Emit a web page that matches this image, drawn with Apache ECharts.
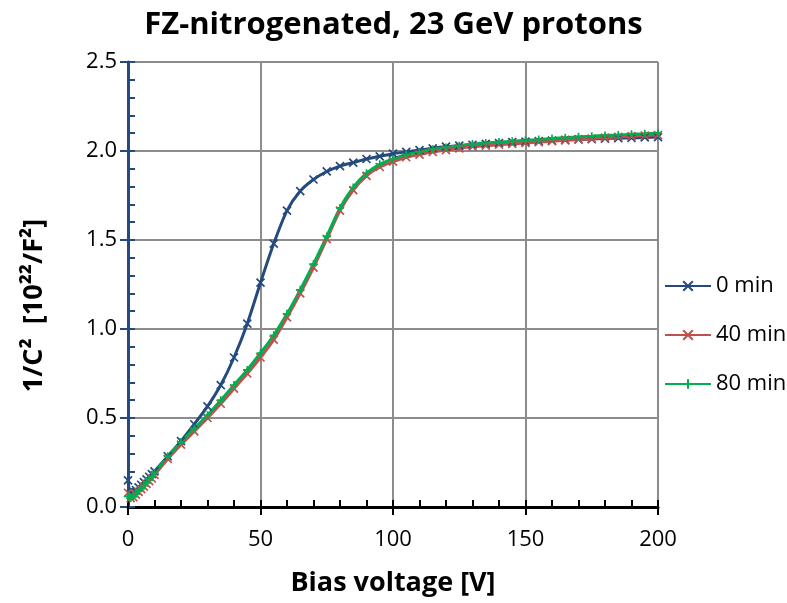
<!DOCTYPE html>
<html>
<head>
<meta charset="utf-8">
<script src="https://cdn.jsdelivr.net/npm/echarts@6/dist/echarts.min.js"></script>
<style>html,body{margin:0;padding:0;background:#fff}#c{width:787px;height:603px}</style>
</head>
<body>
<div id="c"></div>
<script>
const voltages = [0,1,2,3,4,5,6,7,8,9,10,15,20,25,30,35,40,45,50,55,60,65,70,75,80,85,90,95,100,105,110,115,120,125,130,135,140,145,150,155,160,165,170,175,180,185,190,195,200];
const min0 = [0.15,0.07,0.08,0.095,0.11,0.125,0.14,0.155,0.17,0.185,0.20,0.285,0.37,0.465,0.565,0.685,0.84,1.03,1.26,1.48,1.665,1.775,1.84,1.885,1.915,1.935,1.955,1.97,1.985,1.995,2.005,2.015,2.025,2.03,2.035,2.04,2.045,2.05,2.053,2.056,2.059,2.062,2.065,2.067,2.07,2.072,2.074,2.076,2.078];
const min40 = [0.08,0.05,0.055,0.07,0.085,0.10,0.115,0.13,0.145,0.16,0.18,0.27,0.35,0.425,0.50,0.58,0.665,0.75,0.84,0.94,1.065,1.20,1.345,1.505,1.665,1.78,1.86,1.91,1.94,1.965,1.98,1.995,2.005,2.015,2.025,2.03,2.035,2.04,2.045,2.05,2.055,2.06,2.065,2.07,2.075,2.08,2.083,2.087,2.09];
const min80 = [0.06,0.05,0.06,0.075,0.09,0.105,0.12,0.14,0.155,0.17,0.19,0.285,0.365,0.44,0.515,0.60,0.685,0.77,0.865,0.965,1.085,1.22,1.365,1.52,1.68,1.795,1.875,1.925,1.955,1.98,1.995,2.01,2.02,2.03,2.04,2.045,2.05,2.055,2.06,2.065,2.07,2.075,2.08,2.083,2.087,2.09,2.094,2.097,2.10];
const seriesNames = ['0 min','40 min','80 min'];
const seriesColors = ['#254A7D','#C0504D','#00B050'];
const xTicks = [0,50,100,150,200];
const yTicks = [0,0.5,1.0,1.5,2.0,2.5];

const FONT = 'Open Sans';
const X_SYM = 'path://M0,0L10,10M10,0L0,10';
const P_SYM = 'path://M5,0L5,10M0,5L10,5';

function pairs(ys){ return voltages.map((v,i)=>[v,ys[i]]); }
function mk(name, ys, color, sym){
  return {
    name, type:'line', data:pairs(ys), smooth:0.25,
    symbol:sym, symbolSize:8, showAllSymbol:true,
    lineStyle:{color, width:3},
    itemStyle:{color, borderColor:color, borderWidth:1.7},
    emphasis:{disabled:true}, animation:false
  };
}
const chart = echarts.init(document.getElementById('c'));
const yBase = {type:'value', min:yTicks[0], max:yTicks[yTicks.length-1], interval:0.5, position:'left'};
const xBase = {type:'value', min:xTicks[0], max:xTicks[xTicks.length-1], interval:50, position:'bottom'};
chart.setOption({
  animation:false,
  title:{text:'FZ-nitrogenated, 23 GeV protons', left:'center', top:5,
    textStyle:{fontFamily:FONT, fontWeight:'bold', fontSize:31, color:'#000'}},
  grid:{left:128, right:129, top:62, bottom:96},
  legend:{orient:'vertical', left:659, top:270, itemWidth:46, itemHeight:12, itemGap:27,
    textStyle:{fontFamily:FONT, fontSize:22, color:'#000'}, data:seriesNames},
  xAxis:[
    Object.assign({}, xBase, {
      name:'Bias voltage [V]', nameLocation:'middle', nameGap:63,
      nameTextStyle:{fontFamily:FONT, fontWeight:'bold', fontSize:27, color:'#000'},
      axisLine:{show:true, lineStyle:{color:'#000', width:3}},
      axisTick:{show:true, inside:true, length:7, lineStyle:{color:'#000', width:2}},
      minorTick:{show:true, splitNumber:5, length:7, lineStyle:{color:'#000', width:2}},
      splitLine:{show:true, lineStyle:{color:'#8C8C8C', width:2}},
      axisLabel:{fontFamily:FONT, fontSize:22, color:'#000', margin:22}
    }),
    Object.assign({}, xBase, {
      axisLine:{show:false},
      axisTick:{show:true, inside:false, length:8, lineStyle:{color:'#000', width:2}},
      splitLine:{show:false}, axisLabel:{show:false}
    })
  ],
  yAxis:[
    Object.assign({}, yBase, {
      name:'1/C\u00B2  [10\u00B2\u00B2/F\u00B2]', nameLocation:'middle', nameGap:80,
      nameTextStyle:{fontFamily:FONT, fontWeight:'bold', fontSize:27, color:'#000', padding:[0,42,0,0]},
      axisLine:{show:true, lineStyle:{color:'#254A7D', width:3}},
      axisTick:{show:true, inside:true, length:7, lineStyle:{color:'#254A7D', width:2}},
      minorTick:{show:true, splitNumber:5, length:7, lineStyle:{color:'#254A7D', width:2}},
      splitLine:{show:true, lineStyle:{color:'#8C8C8C', width:2}},
      axisLabel:{fontFamily:FONT, fontSize:22, color:'#000', margin:11, formatter:v=>v.toFixed(1)}
    }),
    Object.assign({}, yBase, {
      axisLine:{show:false},
      axisTick:{show:true, inside:false, length:8, lineStyle:{color:'#254A7D', width:2}},
      splitLine:{show:false}, axisLabel:{show:false}
    })
  ],
  series:[
    mk(seriesNames[0], min0, seriesColors[0], X_SYM),
    mk(seriesNames[1], min40, seriesColors[1], X_SYM),
    mk(seriesNames[2], min80, seriesColors[2], P_SYM)
  ]
});
</script>
</body>
</html>
